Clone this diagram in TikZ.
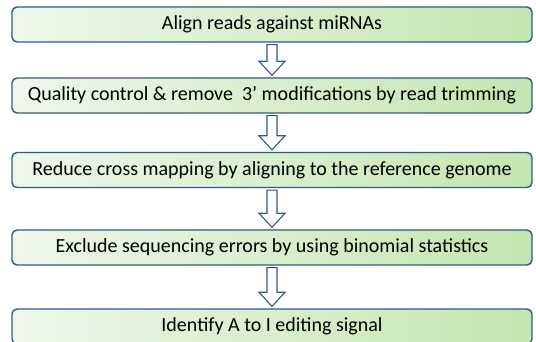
\documentclass[tikz,border=0pt]{standalone}
\usepackage{fontspec}
\setmainfont{Carlito}
\usetikzlibrary{calc}

\definecolor{stepborder}{HTML}{2F5A88}
\definecolor{stepleft}{HTML}{EFF7EA}
\definecolor{stepright}{HTML}{C3E6B0}

\tikzset{
  stepbox/.style={draw=stepborder, line width=1.4pt, rounded corners=5pt,
    left color=stepleft, right color=stepright,
    minimum width=520pt, minimum height=35pt, inner sep=0pt,
    font=\fontsize{20}{24}\selectfont},
  downarrow/.style={draw=stepborder, line width=1.1pt, fill=white, line join=miter}
}

% hollow block arrow from the bottom of #1 to the top of #2
\newcommand{\blockarrow}[2]{%
  \draw [downarrow] ($(#1.south)+(-5,-2)$) -- ($(#1.south)+(5,-2)$)
    -- ($(#2.north)+(5,16)$) -- ($(#2.north)+(13,16)$) -- ($(#2.north)+(0,2)$)
    -- ($(#2.north)+(-13,16)$) -- ($(#2.north)+(-5,16)$) -- cycle;%
}

\begin{document}
\begin{tikzpicture}[x=1pt, y=1pt]
  \useasboundingbox (0,0) rectangle (536,342);
  \clip (0,0) rectangle (536,342);

  % Steps of the pipeline
  \node [stepbox] (align) at (272,317.5) {Align reads against miRNAs};%
  \node [stepbox] (trim) at (272,246.5) {Quality control \& remove\ \ 3’ modifications by read trimming};%
  \node [stepbox] (genome) at (272,172) {Reduce cross mapping by aligning to the reference genome};%
  \node [stepbox] (binom) at (272,94.5) {Exclude sequencing errors by using binomial statistics};%
  \node [stepbox] (signal) at (272,15.5) {Identify A to I editing signal};%

  % Arrows between steps
  \blockarrow{align}{trim}
  \blockarrow{trim}{genome}
  \blockarrow{genome}{binom}
  \blockarrow{binom}{signal}
\end{tikzpicture}
\end{document}
